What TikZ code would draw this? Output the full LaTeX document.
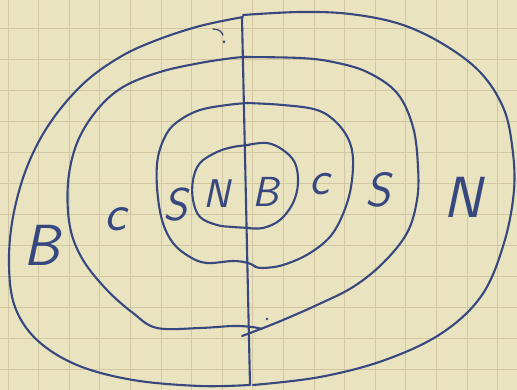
\documentclass[tikz,border=0pt]{standalone}
\usepackage{xcolor}
\definecolor{paper}{HTML}{EAE3BF}
\definecolor{gridc}{HTML}{D2C7A2}
\definecolor{ink}{HTML}{36487F}
\tikzset{
  ring/.style={draw=ink, line width=2.1pt, line cap=round, line join=round},
  lbl/.style={text=ink, font=\sffamily\slshape\fontsize{#1}{#1}\selectfont, inner sep=0pt},
  gridline/.style={draw=gridc, line width=0.9pt}
}
\begin{document}
\begin{tikzpicture}[x=1pt,y=-1pt]
\useasboundingbox (0,0) rectangle (517,390);
\fill[paper] (0,0) rectangle (517,390);
% grid paper
\foreach \i in {0,...,16} { \draw[gridline] ({8+30.6*\i},0) -- ({8+30.6*\i},390); }
\foreach \j in {1,...,12} { \draw[gridline] (0,{-3+31*\j}) -- (517,{-3+31*\j}); }
% vertical dividing line
\coordinate (vtop) at (242,18);
\coordinate (vbot) at (250,385);
\draw[ring] (vtop) -- (vbot);
% outer ring
\draw[ring] plot[smooth, tension=0.6] coordinates {(243,15) (300,12) (350,14) (400,24) (443,44) (480,72) (503,107) (512,145) (514,190) (504,243) (482,295) (442,333) (385,360) (320,377) (253,385)};
\draw[ring] plot[smooth, tension=0.6] coordinates {(243,17) (200,26) (157,40) (120,57) (83,84) (50,123) (27,167) (13,217) (9,265) (15,307) (37,340) (77,365) (133,380) (200,386) (249,385)};
% third ring
\draw[ring] plot[smooth, tension=0.6] coordinates {(244,57) (300,58) (333,62) (367,72) (397,93) (413,127) (418,167) (417,200) (407,233) (383,263) (353,287) (317,305) (283,320) (258,330) (242,336)};
\draw[ring] plot[smooth, tension=0.6] coordinates {(246,57) (233,58) (200,63) (160,72) (123,87) (97,110) (77,143) (68,183) (70,227) (83,260) (107,290) (133,313) (157,328) (200,328) (233,326) (252,327) (262,329)};
% second ring
\draw[ring] plot[smooth, tension=0.6] coordinates {(247,103) (283,105) (317,110) (337,123) (350,143) (353,167) (348,200) (333,233) (310,253) (283,265) (262,268) (254,266)};
\draw[ring] plot[smooth, tension=0.6] coordinates {(248,103) (227,105) (200,110) (180,120) (167,133) (158,157) (157,187) (162,220) (173,243) (190,257) (207,263) (233,261) (248,263) (256,267)};
% inner ring
\draw[ring] plot[smooth, tension=0.6] coordinates {(247,145) (267,143) (283,150) (295,163) (298,183) (293,203) (280,220) (263,228) (248,228)};
\draw[ring] plot[smooth, tension=0.6] coordinates {(249,145) (233,147) (217,152) (200,163) (193,180) (193,200) (200,217) (217,225) (233,227) (250,228)};
% small marks
\draw[ring, line width=1.3pt] (213,29) .. controls (220,30) .. (223,35);
\fill[ink] (224,42) circle (1.5pt);
\fill[ink] (267,319) circle (1.4pt);
% labels
\node[lbl=58] (bl) at (42,245) {B};
\node[lbl=52] (cl) at (115,219) {c};
\node[lbl=46] (sl) at (176,205) {S};
\node[lbl=40] (nc) at (217,194) {N};
\node[lbl=42] (bc) at (266,192) {B};
\node[lbl=48] (cr) at (320,184) {c};
\node[lbl=48] (sr) at (378,190) {S};
\node[lbl=58] (nr) at (463,197) {N};
\end{tikzpicture}
\end{document}
